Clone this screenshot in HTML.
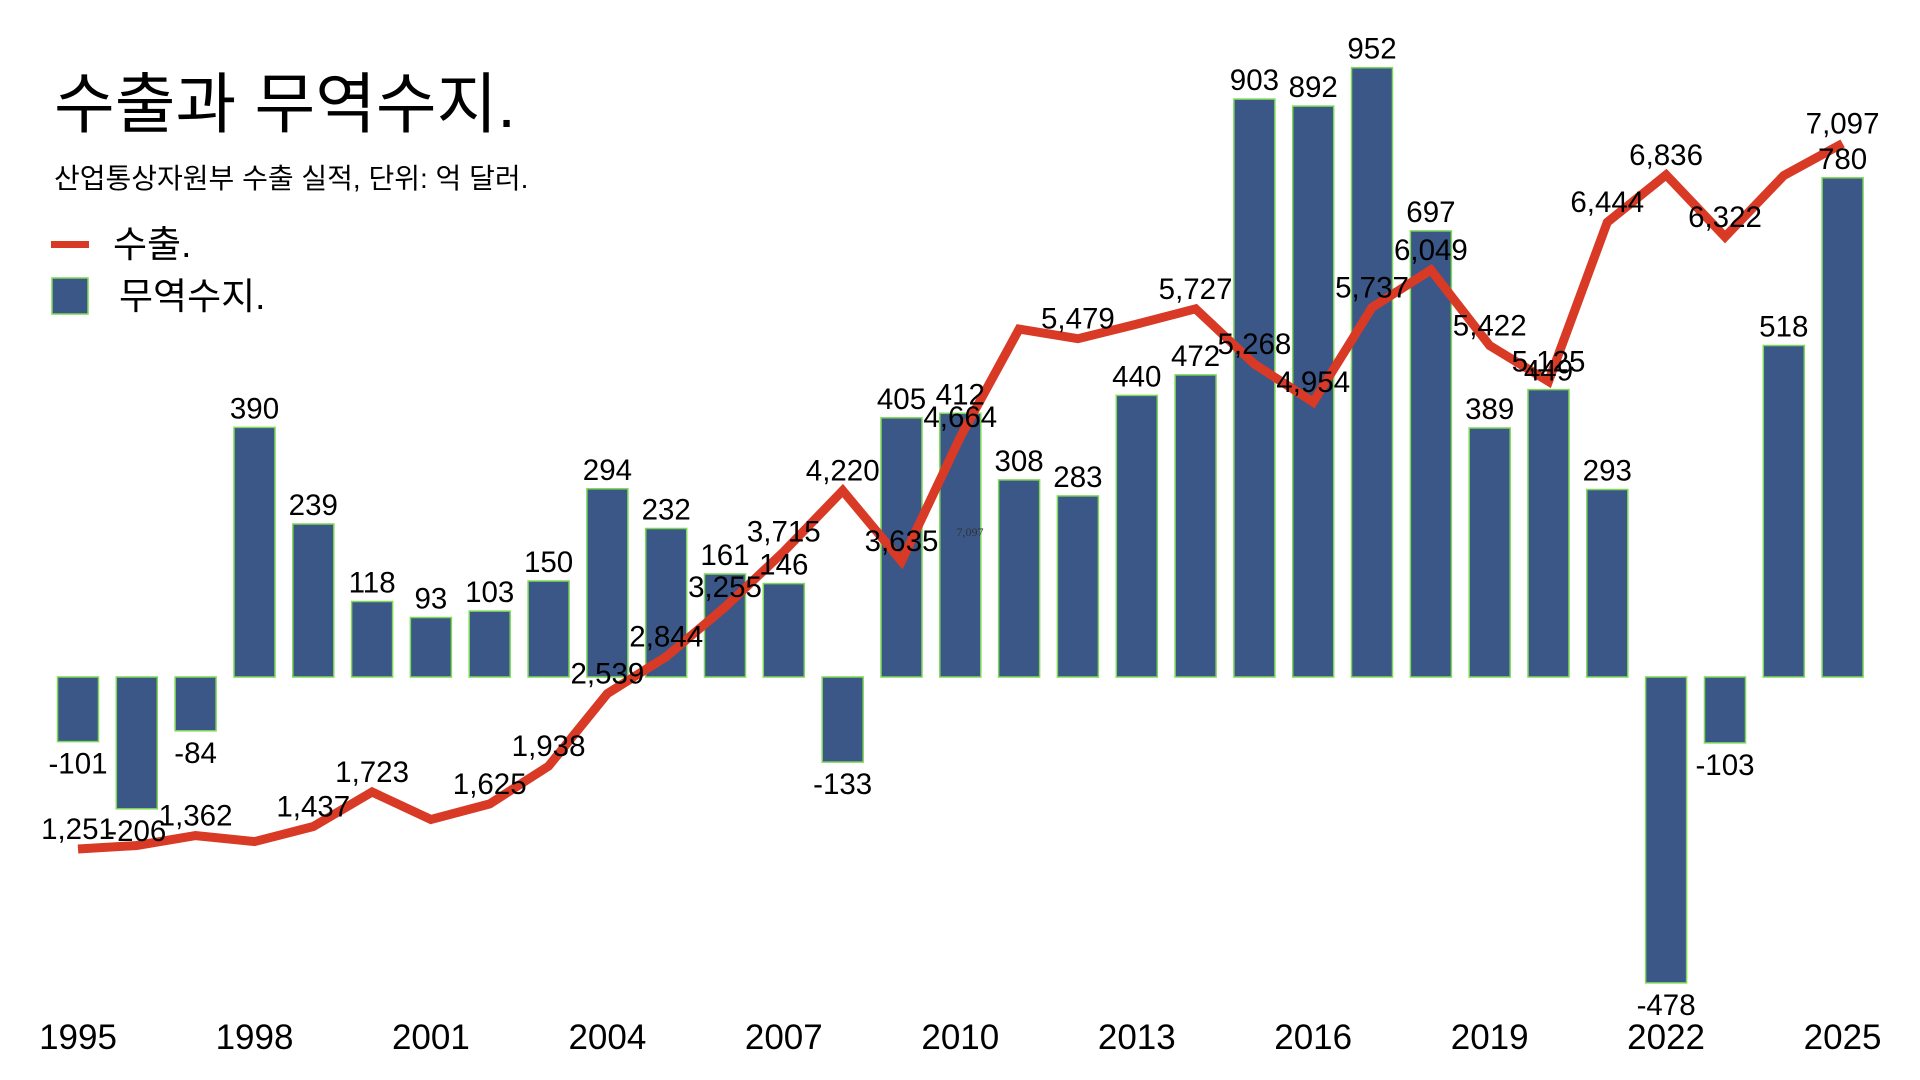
<!DOCTYPE html>
<html><head><meta charset="utf-8"><style>
html,body{margin:0;padding:0;background:#fff;}
svg{display:block;font-family:"Liberation Sans","Noto Sans CJK KR",sans-serif;}
</style></head><body>
<svg width="1920" height="1080" viewBox="0 0 1920 1080" xmlns="http://www.w3.org/2000/svg">
<text x="54" y="127" font-size="66" fill="#000">수출과 무역수지.</text>
<text x="54" y="188" font-size="28" fill="#000">산업통상자원부 수출 실적, 단위: 억 달러.</text>
<rect x="51" y="241" width="38" height="7" fill="#d93a26"/>
<text x="113" y="257" font-size="37" fill="#000">수출.</text>
<rect x="52" y="278" width="36" height="36" fill="#3a5787" stroke="#7fd957" stroke-width="1.5"/>
<text x="119" y="309" font-size="37" fill="#000">무역수지.</text>
<g fill="#3a5787" stroke="#7fd957" stroke-width="1.5">
<rect x="57.5" y="677" width="41" height="64.6"/>
<rect x="116.3" y="677" width="41" height="131.8"/>
<rect x="175.1" y="677" width="41" height="53.8"/>
<rect x="234" y="427.4" width="41" height="249.6"/>
<rect x="292.8" y="524" width="41" height="153"/>
<rect x="351.6" y="601.5" width="41" height="75.5"/>
<rect x="410.4" y="617.5" width="41" height="59.5"/>
<rect x="469.2" y="611.1" width="41" height="65.9"/>
<rect x="528.1" y="581" width="41" height="96"/>
<rect x="586.9" y="488.8" width="41" height="188.2"/>
<rect x="645.7" y="528.5" width="41" height="148.5"/>
<rect x="704.5" y="574" width="41" height="103"/>
<rect x="763.3" y="583.6" width="41" height="93.4"/>
<rect x="822.2" y="677" width="41" height="85.1"/>
<rect x="881" y="417.8" width="41" height="259.2"/>
<rect x="939.8" y="413.3" width="41" height="263.7"/>
<rect x="998.6" y="479.9" width="41" height="197.1"/>
<rect x="1057.4" y="495.9" width="41" height="181.1"/>
<rect x="1116.3" y="395.4" width="41" height="281.6"/>
<rect x="1175.1" y="374.9" width="41" height="302.1"/>
<rect x="1233.9" y="99.1" width="41" height="577.9"/>
<rect x="1292.7" y="106.1" width="41" height="570.9"/>
<rect x="1351.5" y="67.7" width="41" height="609.3"/>
<rect x="1410.4" y="230.9" width="41" height="446.1"/>
<rect x="1469.2" y="428" width="41" height="249"/>
<rect x="1528" y="389.6" width="41" height="287.4"/>
<rect x="1586.8" y="489.5" width="41" height="187.5"/>
<rect x="1645.6" y="677" width="41" height="305.9"/>
<rect x="1704.5" y="677" width="41" height="65.9"/>
<rect x="1763.3" y="345.5" width="41" height="331.5"/>
<rect x="1822.1" y="177.8" width="41" height="499.2"/>
</g>
<text x="970" y="536" font-size="12" fill="#333" font-family="Liberation Serif, serif" text-anchor="middle">7,097</text>
<polyline fill="none" stroke="#d93a26" stroke-width="9" stroke-linejoin="miter" points="78,849 136.8,845.5 195.6,835.6 254.5,841.6 313.3,826.5 372.1,792 430.9,819.5 489.7,803.9 548.6,766.1 607.4,693.5 666.2,656.7 725,607.1 783.8,551.6 842.7,490.6 901.5,561.2 960.3,437 1019.1,329.1 1077.9,338.7 1136.8,324.1 1195.6,308.8 1254.4,364.1 1313.2,402.1 1372,307.5 1430.9,269.9 1489.7,345.6 1548.5,381.4 1607.3,222.2 1666.1,174.9 1725,236.9 1783.8,175.5 1842.6,143.4"/>
<g font-size="29.5" fill="#000" text-anchor="middle">
<text x="78" y="773.6">-101</text>
<text x="136.8" y="840.8">-206</text>
<text x="195.6" y="762.8">-84</text>
<text x="254.5" y="418.4">390</text>
<text x="313.3" y="515">239</text>
<text x="372.1" y="592.5">118</text>
<text x="430.9" y="608.5">93</text>
<text x="489.7" y="602.1">103</text>
<text x="548.6" y="572">150</text>
<text x="607.4" y="479.8">294</text>
<text x="666.2" y="519.5">232</text>
<text x="725" y="565">161</text>
<text x="783.8" y="574.6">146</text>
<text x="842.7" y="794.1">-133</text>
<text x="901.5" y="408.8">405</text>
<text x="960.3" y="404.3">412</text>
<text x="1019.1" y="470.9">308</text>
<text x="1077.9" y="486.9">283</text>
<text x="1136.8" y="386.4">440</text>
<text x="1195.6" y="365.9">472</text>
<text x="1254.4" y="90.1">903</text>
<text x="1313.2" y="97.1">892</text>
<text x="1372" y="58.7">952</text>
<text x="1430.9" y="221.9">697</text>
<text x="1489.7" y="419">389</text>
<text x="1548.5" y="380.6">449</text>
<text x="1607.3" y="480.5">293</text>
<text x="1666.1" y="1014.9">-478</text>
<text x="1725" y="774.9">-103</text>
<text x="1783.8" y="336.5">518</text>
<text x="1842.6" y="168.8">780</text>
<text x="78" y="839">1,251</text>
<text x="195.6" y="825.6">1,362</text>
<text x="313.3" y="816.5">1,437</text>
<text x="372.1" y="782">1,723</text>
<text x="489.7" y="793.9">1,625</text>
<text x="548.6" y="756.1">1,938</text>
<text x="607.4" y="683.5">2,539</text>
<text x="666.2" y="646.7">2,844</text>
<text x="725" y="597.1">3,255</text>
<text x="783.8" y="541.6">3,715</text>
<text x="842.7" y="480.6">4,220</text>
<text x="901.5" y="551.2">3,635</text>
<text x="960.3" y="427">4,664</text>
<text x="1077.9" y="328.7">5,479</text>
<text x="1195.6" y="298.8">5,727</text>
<text x="1254.4" y="354.1">5,268</text>
<text x="1313.2" y="392.1">4,954</text>
<text x="1372" y="297.5">5,737</text>
<text x="1430.9" y="259.9">6,049</text>
<text x="1489.7" y="335.6">5,422</text>
<text x="1548.5" y="371.4">5,125</text>
<text x="1607.3" y="212.2">6,444</text>
<text x="1666.1" y="164.9">6,836</text>
<text x="1725" y="226.9">6,322</text>
<text x="1842.6" y="133.4">7,097</text>
</g>
<g font-size="35" fill="#000" text-anchor="middle">
<text x="78" y="1049">1995</text>
<text x="254.5" y="1049">1998</text>
<text x="430.9" y="1049">2001</text>
<text x="607.4" y="1049">2004</text>
<text x="783.8" y="1049">2007</text>
<text x="960.3" y="1049">2010</text>
<text x="1136.8" y="1049">2013</text>
<text x="1313.2" y="1049">2016</text>
<text x="1489.7" y="1049">2019</text>
<text x="1666.1" y="1049">2022</text>
<text x="1842.6" y="1049">2025</text>
</g>
</svg>
</body></html>
